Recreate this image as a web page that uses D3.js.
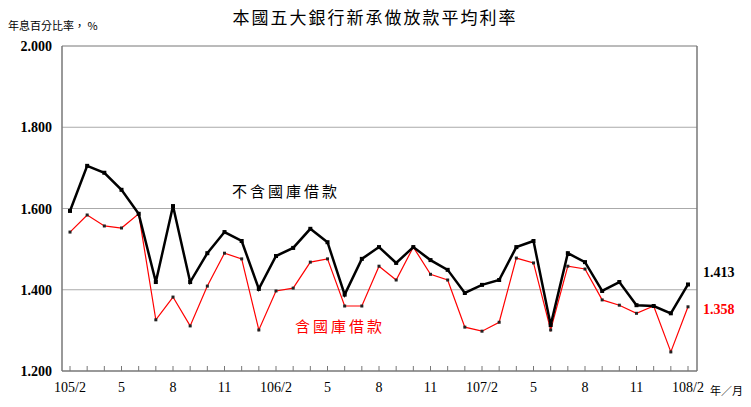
<!DOCTYPE html>
<html><head><meta charset="utf-8">
<script src="https://cdn.jsdelivr.net/npm/d3@7"></script>
<style>body{margin:0;background:#fff}</style>
</head><body>
<svg id="chart" width="751" height="407"></svg>
<script>
// months 105/2 .. 108/2
var months = [];
for (var i = 0; i < 37; i++) {
    var m = (i + 1) % 12 + 1, yr = 105 + Math.floor((i + 1) / 12);
    months.push(yr + '/' + m);
}
var exclLoans = [1.594,1.705,1.688,1.646,1.587,1.419,1.606,1.419,1.490,1.542,1.520,1.402,1.483,1.503,1.550,1.517,1.388,1.476,1.505,1.466,1.505,1.473,1.449,1.392,1.412,1.424,1.505,1.520,1.313,1.490,1.468,1.397,1.419,1.362,1.360,1.342,1.413];
var inclLoans = [1.542,1.584,1.557,1.552,1.587,1.326,1.382,1.311,1.409,1.490,1.476,1.301,1.397,1.404,1.468,1.476,1.360,1.360,1.458,1.424,1.505,1.438,1.424,1.308,1.298,1.320,1.478,1.466,1.301,1.458,1.451,1.375,1.362,1.342,1.360,1.247,1.358];
var yTicks = [1.2, 1.4, 1.6, 1.8, 2.0];
var xLabels = {0:'105/2',3:'5',6:'8',9:'11',12:'106/2',15:'5',18:'8',21:'11',24:'107/2',27:'5',30:'8',33:'11',36:'108/2'};

var svg = d3.select('#chart');
var pLeft = 62, pRight = 697, pTop = 46, pBottom = 371;

var x = d3.scaleLinear().domain([0, 36]).range([70, 688]);
var y = d3.scaleLinear().domain([1.2, 2.0]).range([pBottom, pTop]);

// grid
svg.selectAll('.grid').data([1.4, 1.6, 1.8]).enter().append('line')
    .attr('x1', pLeft).attr('x2', pRight)
    .attr('y1', function (d) { return y(d); }).attr('y2', function (d) { return y(d); })
    .attr('stroke', '#aaa').attr('stroke-width', 1);

// frame
svg.append('line').attr('x1', pLeft).attr('x2', pLeft).attr('y1', pTop).attr('y2', pBottom).attr('stroke', '#777').attr('stroke-width', 1.5);
svg.append('line').attr('x1', pRight).attr('x2', pRight).attr('y1', pTop).attr('y2', pBottom).attr('stroke', '#777').attr('stroke-width', 1.5);
svg.append('line').attr('x1', pLeft).attr('x2', pRight).attr('y1', pTop).attr('y2', pTop).attr('stroke', '#777').attr('stroke-width', 1);
svg.append('line').attr('x1', pLeft).attr('x2', pRight).attr('y1', pBottom).attr('y2', pBottom).attr('stroke', '#777').attr('stroke-width', 1.5);

// x ticks
svg.selectAll('.xt').data(months).enter().append('line')
    .attr('x1', function (d, i) { return x(i); }).attr('x2', function (d, i) { return x(i); })
    .attr('y1', pBottom).attr('y2', pBottom - 5).attr('stroke', '#777');
svg.selectAll('.xl').data(months).enter().filter(function (d, i) { return xLabels[i] !== undefined; })
    .append('text')
    .attr('x', function (d) { return x(months.indexOf(d)); }).attr('y', 392)
    .attr('text-anchor', 'middle').attr('font-family', 'Liberation Serif').attr('font-size', 14)
    .text(function (d) { return xLabels[months.indexOf(d)]; });

// y labels
svg.selectAll('.yl').data(yTicks).enter().append('text')
    .attr('x', pLeft - 10).attr('y', function (d) { return y(d) + 5; })
    .attr('text-anchor', 'end').attr('font-family', 'Liberation Serif').attr('font-size', 14).attr('font-weight', 'bold')
    .text(function (d) { return d.toFixed(3); });

var line = d3.line().x(function (d, i) { return x(i); }).y(function (d) { return y(d); });

svg.append('path').datum(inclLoans).attr('d', line).attr('fill', 'none').attr('stroke', '#f00').attr('stroke-width', 1.2);
svg.selectAll('.rp').data(inclLoans).enter().append('rect')
    .attr('x', function (d, i) { return x(i) - 1.5; }).attr('y', function (d) { return y(d) - 1.5; })
    .attr('width', 3).attr('height', 3).attr('fill', '#222');

svg.append('path').datum(exclLoans).attr('d', line).attr('fill', 'none').attr('stroke', '#000').attr('stroke-width', 2.5);
svg.selectAll('.bp').data(exclLoans).enter().append('rect')
    .attr('x', function (d, i) { return x(i) - 2; }).attr('y', function (d) { return y(d) - 2; })
    .attr('width', 4).attr('height', 4).attr('fill', '#000');

// text
svg.append('text').attr('x', 375).attr('y', 24).attr('text-anchor', 'middle')
    .attr('font-family', 'Noto Sans CJK TC').attr('font-size', 17).attr('letter-spacing', 2).text('本國五大銀行新承做放款平均利率');
svg.append('text').attr('x', 8).attr('y', 30).attr('font-family', 'Noto Sans CJK TC').attr('font-size', 11).text('年息百分比率， %');
svg.append('text').attr('x', 710).attr('y', 395).attr('font-family', 'Noto Sans CJK TC').attr('font-size', 11).text('年／月');
svg.append('text').attr('x', 232).attr('y', 197).attr('font-family', 'Noto Sans CJK TC').attr('font-size', 15).attr('letter-spacing', 3).text('不含國庫借款');
svg.append('text').attr('x', 295).attr('y', 332).attr('font-family', 'Noto Sans CJK TC').attr('font-size', 15).attr('letter-spacing', 3).attr('fill', '#f00').text('含國庫借款');
svg.append('text').attr('x', 703).attr('y', 277).attr('font-family', 'Liberation Serif').attr('font-size', 14).attr('font-weight', 'bold')
    .text(exclLoans[36].toFixed(3));
svg.append('text').attr('x', 703).attr('y', 314).attr('font-family', 'Liberation Serif').attr('font-size', 14).attr('font-weight', 'bold').attr('fill', '#f00')
    .text(inclLoans[36].toFixed(3));
</script>
</body></html>
